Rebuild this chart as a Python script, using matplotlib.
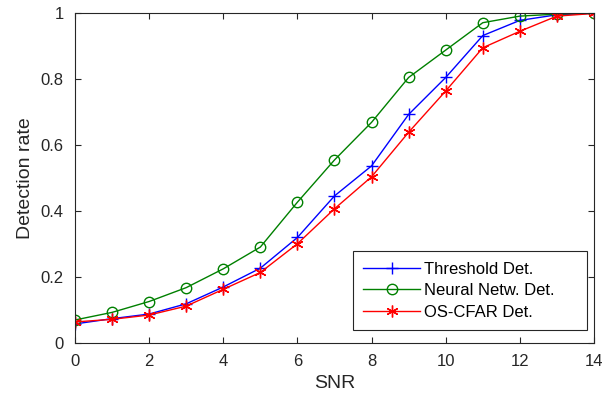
import numpy as np
import matplotlib.pyplot as plt

plt.rcParams['font.family'] = ['Liberation Sans', 'DejaVu Sans']

snr = np.arange(0, 15)
threshold = [0.058, 0.074, 0.088, 0.119, 0.170, 0.227, 0.320, 0.446, 0.537, 0.693, 0.805,
             0.932, 0.978, 0.995, 1.000]
neural = [0.070, 0.093, 0.126, 0.168, 0.225, 0.291, 0.427, 0.555, 0.669, 0.805, 0.888,
          0.971, 0.991, 0.997, 1.000]
oscfar = [0.064, 0.072, 0.085, 0.112, 0.163, 0.214, 0.301, 0.407, 0.504, 0.639, 0.764,
          0.895, 0.945, 0.991, 0.999]

fig = plt.figure(figsize=(6.13, 3.98), dpi=100)
ax = fig.add_axes([0.1223, 0.138, 0.8467, 0.829])

# matlab style asterisk
asterisk = (6, 2, 0)

ax.plot(snr, threshold, color='b', marker='+', markersize=8.5, markeredgewidth=1.0,
        linewidth=1.0, label='Threshold Det.')
ax.plot(snr, neural, color=(0, 0.5, 0), marker='o', markersize=7.5, markerfacecolor='none',
        markeredgewidth=1.0, linewidth=1.0, label='Neural Netw. Det.')
ax.plot(snr, oscfar, color='r', marker=asterisk, markersize=8.5, markeredgewidth=1.0,
        linewidth=1.0, label='OS-CFAR Det.')

ax.set_xlim(0, 14)
ax.set_ylim(0, 1)
ax.set_xticks(np.arange(0, 15, 2))
ax.set_yticks([0, 0.2, 0.4, 0.6, 0.8, 1])
ax.set_yticklabels(['0', '0.2', '0.4', '0.6', '0.8', '1'])
ax.tick_params(direction='in', top=True, right=True, labelsize=12, colors='#262626',
               length=4, width=0.8)
ax.tick_params(axis='x', pad=8)
ax.tick_params(axis='y', pad=8)
for s in ax.spines.values():
    s.set_color('#262626')
    s.set_linewidth(0.8)
ax.set_xlabel('SNR', fontsize=14, color='#262626', labelpad=4)
ax.set_ylabel('Detection rate', fontsize=14, color='#262626', labelpad=5)

# legend box stretched to the matlab width
leg = ax.legend(loc='lower left', bbox_to_anchor=(0.5356, 0.0394, 0.4509, 0.2),
                mode='expand', fontsize=12, fancybox=False, framealpha=1,
                edgecolor='#262626', handlelength=3.4, borderaxespad=0,
                labelspacing=0.39, handletextpad=0.25, borderpad=0.62)
leg.get_frame().set_linewidth(0.8)

fig.savefig('out.png', dpi=100)
